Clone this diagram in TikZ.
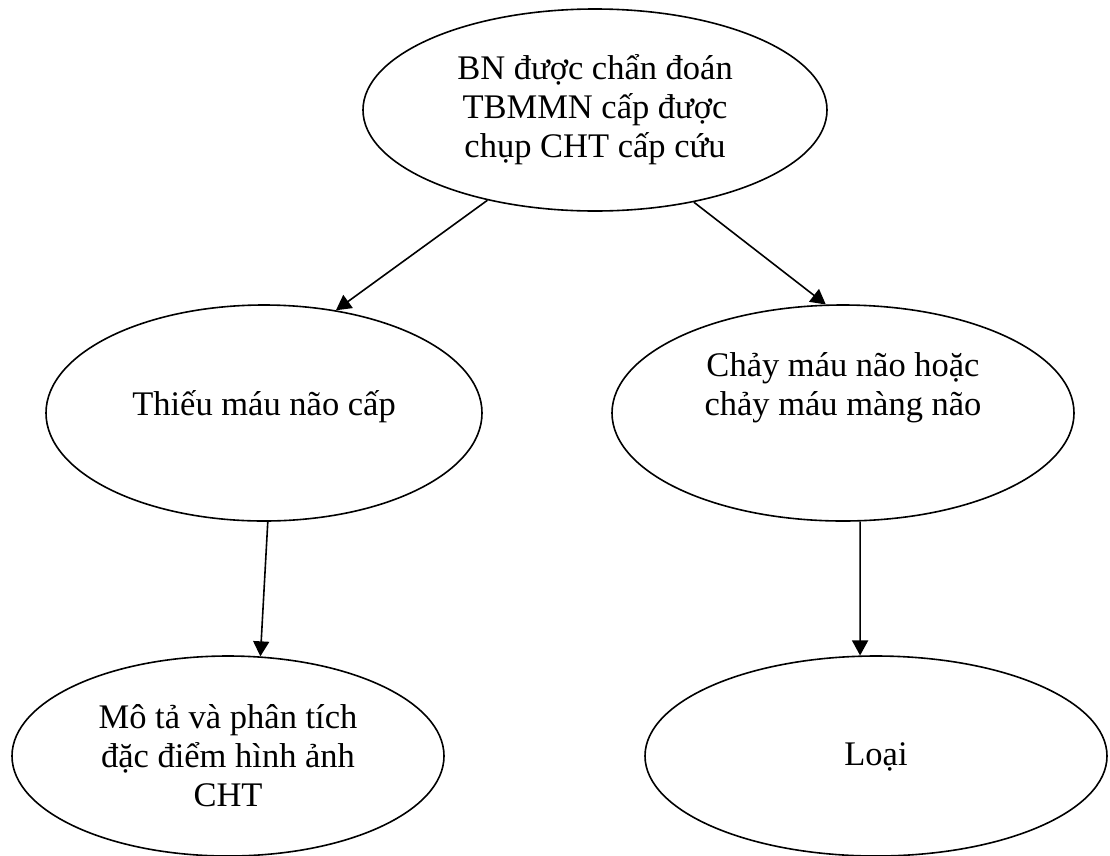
\documentclass[tikz,border=0pt]{standalone}
\usepackage{fontspec}
\setmainfont{Liberation Serif}
\usetikzlibrary{arrows.meta,shapes.geometric}
\begin{document}
\begin{tikzpicture}[x=1pt,y=-1pt,
  bubble/.style={draw, ellipse, line width=1.6pt, inner sep=0pt, align=center,
    font=\fontsize{34.5}{39}\selectfont},
  link/.style={line width=1.6pt, -{Triangle[width=16pt,length=15pt]}}]
\useasboundingbox (0,0) rectangle (1110,855);
\node[bubble, minimum width=464pt, minimum height=202pt] (top) at (595,110)
  {BN được chẩn đoán\\TBMMN cấp được\\chụp CHT cấp cứu};
\node[bubble, minimum width=436pt, minimum height=216pt, text height=20pt, text depth=16pt] (ml) at (264,413)
  {Thiếu máu não cấp};
\node[bubble, minimum width=462pt, minimum height=216pt, text height=27pt, text depth=23pt] (mr) at (843,413)
  {Chảy máu não hoặc\\chảy máu màng não};
\node[bubble, minimum width=432pt, minimum height=200pt] (bl) at (228,756)
  {Mô tả và phân tích\\đặc điểm hình ảnh\\CHT};
\node[bubble, minimum width=462pt, minimum height=200pt, text height=25pt, text depth=7pt] (br) at (876,756)
  {Loại};
\draw[link] (top.220) -- (ml.55);
\draw[link] (top.317) -- (mr.99);
\draw[link] (ml.272) -- (bl.72);
\draw[link] (mr.279) -- (br.99);
\end{tikzpicture}
\end{document}
